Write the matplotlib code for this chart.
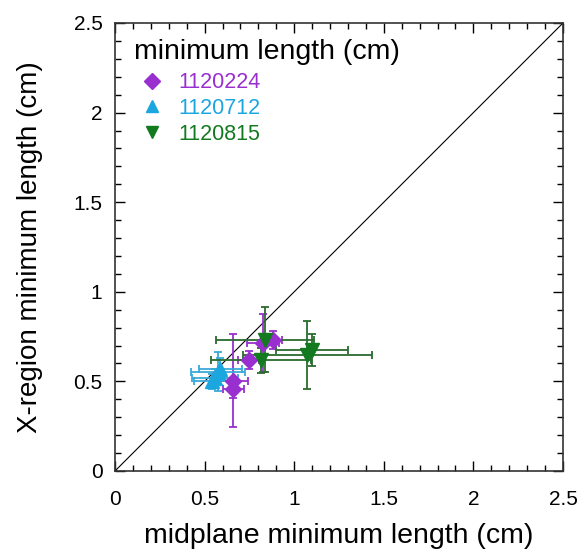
import matplotlib
matplotlib.use("Agg")
import matplotlib.pyplot as plt

plt.rcParams['font.family'] = ['Liberation Sans', 'DejaVu Sans']

# shot 1120224 (purple diamonds)
s1_x = [0.66, 0.66, 0.745, 0.826, 0.884]
s1_y = [0.505, 0.46, 0.62, 0.714, 0.733]
s1_xerr = [0.08, 0.06, 0.06, 0.09, 0.05]
s1_yerr = [0.26, 0.05, 0.05, 0.16, 0.05]

# shot 1120712 (blue triangles)
s2_x = [0.575, 0.558, 0.54, 0.586]
s2_y = [0.554, 0.52, 0.50, 0.569]
s2_xerr = [0.15, 0.13, 0.10, 0.12]
s2_yerr = [0.11, 0.05, 0.04, 0.06]

# shot 1120815 (green down triangles)
s3_x = [0.838, 0.814, 1.074, 1.098]
s3_y = [0.733, 0.619, 0.649, 0.674]
s3_xerr = [0.275, 0.28, 0.36, 0.20]
s3_yerr = [0.18, 0.07, 0.19, 0.09]

labels = ['1120224', '1120712', '1120815']
colors = ['#9a2fd0', '#1ba6e0', '#137a1f']
ecolors = ['#9a2fd0', '#3aa9d8', '#2b6b2e']
markers = ['D', '^', 'v']

fig = plt.figure(figsize=(5.81, 5.53), dpi=100)
ax = fig.add_axes([115/581, 1 - 471/553, 448/581, 448/553])

# one-to-one reference line
ax.plot([0, 2.5], [0, 2.5], color='black', lw=0.8, zorder=1)

data = [(s1_x, s1_y, s1_xerr, s1_yerr),
        (s2_x, s2_y, s2_xerr, s2_yerr),
        (s3_x, s3_y, s3_xerr, s3_yerr)]
handles = []
for (x, y, xe, ye), lab, c, ec, m in zip(data, labels, colors, ecolors, markers):
    ax.errorbar(x, y, xerr=xe, yerr=ye, fmt='none', ecolor=ec,
                elinewidth=1.3, capsize=3, capthick=1.3, zorder=2)
    ms = 8 if m == 'D' else 10
    h, = ax.plot(x, y, linestyle='none', marker=m, color=c, markersize=ms,
                 zorder=3, label=lab)
    handles.append(h)

ticks = [0, 0.5, 1, 1.5, 2, 2.5]
tick_labels = ['0', '0.5', '1', '1.5', '2', '2.5']
ax.set_xlim(0, 2.5)
ax.set_ylim(0, 2.5)
ax.set_xticks(ticks)
ax.set_yticks(ticks)
ax.set_xticklabels(tick_labels)
ax.set_yticklabels(tick_labels)
ax.set_xticks([i / 10 for i in range(26)], minor=True)
ax.set_yticks([i / 10 for i in range(26)], minor=True)
ax.tick_params(which='both', direction='in', top=True, right=True,
               labelsize=15)
ax.tick_params(axis='x', which='major', pad=14)
ax.tick_params(axis='y', which='major', pad=9)
ax.tick_params(which='major', length=7, width=1)
ax.tick_params(which='minor', length=4, width=1)
for sp in ax.spines.values():
    sp.set_linewidth(1.2)
    sp.set_color('#333333')

ax.set_xlabel('midplane minimum length (cm)', fontsize=20.5)
ax.set_ylabel('X-region minimum length (cm)', fontsize=20)
ax.xaxis.set_label_coords(0.5, -0.117)
ax.yaxis.set_label_coords(-0.16, 0.5)

ax.text(0.043, 0.935, 'minimum length (cm)', transform=ax.transAxes,
        fontsize=20.5, ha='left', va='center')
leg = ax.legend(handles=handles, loc='upper left', frameon=False,
                fontsize=15.5, handlelength=1.0, handletextpad=0.75,
                labelspacing=0.22, borderaxespad=0, borderpad=0,
                bbox_to_anchor=(0.058, 0.89))
for txt, c in zip(leg.get_texts(), colors):
    txt.set_color(c)
for h in leg.legend_handles:
    h.set_markersize(8)

fig.savefig('out.png', dpi=100)
